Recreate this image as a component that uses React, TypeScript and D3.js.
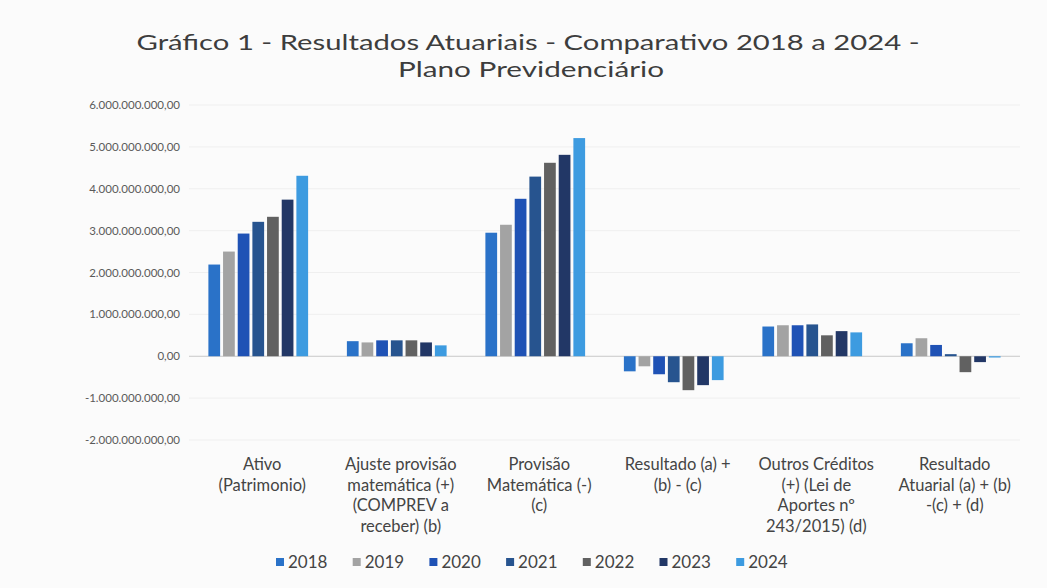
import * as d3 from "d3";

// categorias do eixo X (cada uma quebrada em linhas como no Excel)
const categories = [
  ["Ativo", "(Patrimonio)"],
  ["Ajuste provisão", "matemática (+)", "(COMPREV a", "receber) (b)"],
  ["Provisão", "Matemática (-)", "(c)"],
  ["Resultado  (a) +", "(b) - (c)"],
  ["Outros Créditos", "(+) (Lei de", "Aportes nº", "243/2015) (d)"],
  ["Resultado", "Atuarial (a) + (b)", "-(c) + (d)"],
];

const years = ["2018", "2019", "2020", "2021", "2022", "2023", "2024"];

// valores em bilhões de R$, por categoria
const ativo = [2.19, 2.5, 2.93, 3.21, 3.33, 3.74, 4.31];
const ajuste = [0.36, 0.33, 0.38, 0.38, 0.38, 0.33, 0.26];
const provisao = [2.95, 3.14, 3.76, 4.29, 4.62, 4.81, 5.21];
const resultado = [-0.36, -0.24, -0.43, -0.62, -0.81, -0.69, -0.57];
const outros = [0.71, 0.74, 0.74, 0.76, 0.5, 0.6, 0.57];
const resAtuarial = [0.31, 0.43, 0.27, 0.05, -0.38, -0.14, -0.03];

const series = [ativo, ajuste, provisao, resultado, outros, resAtuarial];

const yTicks = [-2, -1, 0, 1, 2, 3, 4, 5, 6];

const colors = ["#2a72c8", "#a3a3a3", "#1f52b5", "#27548f", "#616161", "#223766", "#3d9be0"];

const fmt = (v: number) => {
  const n = Math.abs(v) * 1e9;
  const s = d3.format(",.2f")(n).replace(/,/g, "#").replace(".", ",").replace(/#/g, ".");
  return (v < 0 ? "-" : "") + s;
};

export default function App() {
  const width = 1047;
  const height = 588;
  const left = 189;
  const right = 1020;

  const y = d3.scaleLinear().domain([-2, 6]).range([440, 105]);
  const x0 = d3
    .scaleBand<number>()
    .domain(d3.range(categories.length))
    .range([left, right])
    .paddingInner(0.28)
    .paddingOuter(0.14);
  const x1 = d3
    .scaleBand<number>()
    .domain(d3.range(years.length))
    .range([0, x0.bandwidth()])
    .paddingInner(0.2);

  const font = "Lato, 'Open Sans', sans-serif";

  const legendItem = 76.7;
  const legendStart = 276;

  return (
    <svg
      width={width}
      height={height}
      style={{ position: "absolute", left: 0, top: 0, background: "#fbfbfb" }}
      fontFamily={font}
    >
      <text
        x={528}
        y={50}
        textAnchor="middle"
        fontSize={22}
        fill="#3d3d3d"
        textLength={783}
        lengthAdjust="spacingAndGlyphs"
      >
        Gráfico 1 - Resultados Atuariais - Comparativo 2018 a 2024 -
      </text>
      <text
        x={531}
        y={77}
        textAnchor="middle"
        fontSize={22}
        fill="#3d3d3d"
        textLength={266}
        lengthAdjust="spacingAndGlyphs"
      >
        Plano Previdenciário
      </text>

      {yTicks.map((t) => (
        <g key={t}>
          <line
            x1={left}
            x2={right}
            y1={y(t)}
            y2={y(t)}
            stroke={t === 0 ? "#c8c8c8" : "#efefef"}
            strokeWidth={1}
          />
          <text
            x={180}
            y={y(t)}
            dy="0.35em"
            textAnchor="end"
            fontSize={11.5}
            fill="#5a5a5a"
          >
            {fmt(t)}
          </text>
        </g>
      ))}

      {series.map((vals, ci) => (
        <g key={ci} transform={`translate(${x0(ci)},0)`}>
          {vals.map((v, yi) => (
            <rect
              key={yi}
              x={x1(yi)}
              y={y(Math.max(0, v))}
              width={x1.bandwidth()}
              height={Math.abs(y(v) - y(0))}
              fill={colors[yi]}
            />
          ))}
        </g>
      ))}

      {categories.map((lines, ci) => (
        <text
          key={ci}
          x={(x0(ci) ?? 0) + x0.bandwidth() / 2}
          y={470}
          textAnchor="middle"
          fontSize={16.5}
          fill="#444"
        >
          {lines.map((l, li) => (
            <tspan key={li} x={(x0(ci) ?? 0) + x0.bandwidth() / 2 + 4} dy={li === 0 ? 0 : 20.5}>
              {l}
            </tspan>
          ))}
        </text>
      ))}

      {years.map((yr, i) => (
        <g key={yr} transform={`translate(${legendStart + i * legendItem},562)`}>
          <rect x={0} y={-4} width={8} height={8} fill={colors[i]} />
          <text x={12} y={0} dy="0.35em" fontSize={17} fill="#444">
            {yr}
          </text>
        </g>
      ))}
    </svg>
  );
}
